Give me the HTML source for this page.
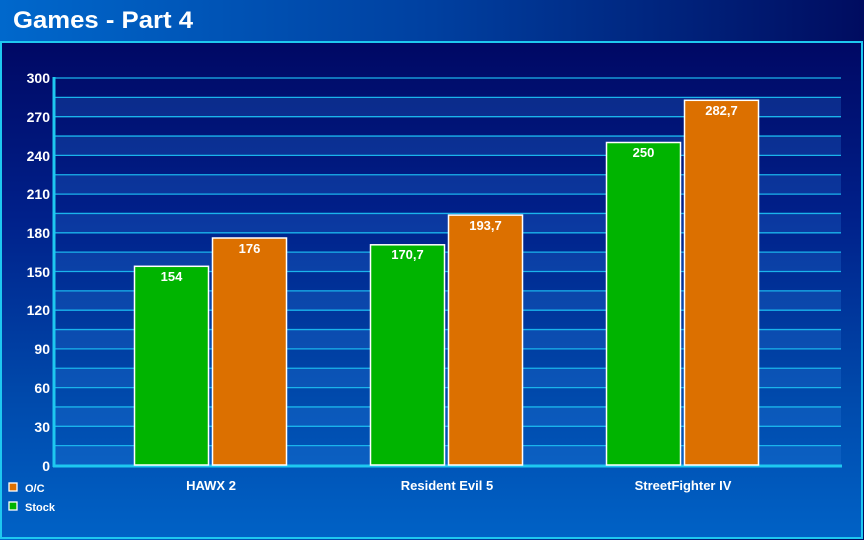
<!DOCTYPE html><html><head><style>body{margin:0}svg{display:block}text{font-family:"Liberation Sans",Arial,sans-serif;font-weight:bold;fill:#fff}</style></head><body>
<svg width="864" height="540" xmlns="http://www.w3.org/2000/svg">
<defs>
<linearGradient id="tb" x1="0" x2="1" y1="0" y2="0"><stop offset="0" stop-color="#0068cc"/><stop offset="0.5" stop-color="#0040a0"/><stop offset="1" stop-color="#000c60"/></linearGradient>
<linearGradient id="bg" x1="0" x2="0" y1="0" y2="1"><stop offset="0" stop-color="#000864"/><stop offset="0.35" stop-color="#00208a"/><stop offset="0.7" stop-color="#0048aa"/><stop offset="1" stop-color="#0062c6"/></linearGradient>
</defs>
<rect width="864" height="540" fill="url(#tb)"/>
<text x="13" y="28" font-size="24" textLength="180" lengthAdjust="spacingAndGlyphs">Games - Part 4</text>
<rect x="1" y="42" width="861" height="496" fill="url(#bg)" stroke="#1ec8f0" stroke-width="2"/>
<g fill="#2a7ee0" fill-opacity="0.25">
<rect x="55" y="97.35" width="786" height="19.35"/><rect x="55" y="136.05" width="786" height="19.35"/><rect x="55" y="174.75" width="786" height="19.35"/><rect x="55" y="213.45" width="786" height="19.35"/><rect x="55" y="252.15" width="786" height="19.35"/><rect x="55" y="290.85" width="786" height="19.35"/><rect x="55" y="329.55" width="786" height="19.35"/><rect x="55" y="368.25" width="786" height="19.35"/><rect x="55" y="406.95" width="786" height="19.35"/><rect x="55" y="445.65" width="786" height="19.35"/>
</g>
<g stroke="#1ab4ec" stroke-width="1.3">
<line x1="55" x2="841" y1="78" y2="78"/><line x1="55" x2="841" y1="97.35" y2="97.35"/><line x1="55" x2="841" y1="116.7" y2="116.7"/><line x1="55" x2="841" y1="136.05" y2="136.05"/><line x1="55" x2="841" y1="155.4" y2="155.4"/><line x1="55" x2="841" y1="174.75" y2="174.75"/><line x1="55" x2="841" y1="194.1" y2="194.1"/><line x1="55" x2="841" y1="213.45" y2="213.45"/><line x1="55" x2="841" y1="232.8" y2="232.8"/><line x1="55" x2="841" y1="252.15" y2="252.15"/><line x1="55" x2="841" y1="271.5" y2="271.5"/><line x1="55" x2="841" y1="290.85" y2="290.85"/><line x1="55" x2="841" y1="310.2" y2="310.2"/><line x1="55" x2="841" y1="329.55" y2="329.55"/><line x1="55" x2="841" y1="348.9" y2="348.9"/><line x1="55" x2="841" y1="368.25" y2="368.25"/><line x1="55" x2="841" y1="387.6" y2="387.6"/><line x1="55" x2="841" y1="406.95" y2="406.95"/><line x1="55" x2="841" y1="426.3" y2="426.3"/><line x1="55" x2="841" y1="445.65" y2="445.65"/>
</g>
<line x1="54" x2="54" y1="77" y2="467" stroke="#1ec8f0" stroke-width="3"/>
<line x1="53" x2="842" y1="466" y2="466" stroke="#1ec8f0" stroke-width="3"/>
<g font-size="14" text-anchor="end">
<text x="50" y="83">300</text><text x="50" y="122">270</text><text x="50" y="161">240</text><text x="50" y="199">210</text><text x="50" y="238">180</text><text x="50" y="277">150</text><text x="50" y="315">120</text><text x="50" y="354">90</text><text x="50" y="393">60</text><text x="50" y="432">30</text><text x="50" y="471">0</text>
</g>
<g stroke="#fff" stroke-width="1.5">
<rect x="134.5" y="266.3" width="74" height="198.7" fill="#00b400"/>
<rect x="212.5" y="238" width="74" height="227" fill="#dc7000"/>
<rect x="370.5" y="244.8" width="74" height="220.2" fill="#00b400"/>
<rect x="448.5" y="215.1" width="74" height="249.9" fill="#dc7000"/>
<rect x="606.5" y="142.5" width="74" height="322.5" fill="#00b400"/>
<rect x="684.5" y="100.3" width="74" height="364.7" fill="#dc7000"/>
</g>
<g font-size="13" text-anchor="middle">
<text x="171.5" y="281">154</text><text x="249.5" y="253">176</text>
<text x="407.5" y="259">170,7</text><text x="485.5" y="230">193,7</text>
<text x="643.5" y="157">250</text><text x="721.5" y="115">282,7</text>
<text x="211" y="490">HAWX 2</text><text x="447" y="490">Resident Evil 5</text><text x="683" y="490">StreetFighter IV</text>
</g>
<rect x="9" y="483" width="8" height="8" fill="#dc7000" stroke="#fff" stroke-width="1.3"/>
<rect x="9" y="502" width="8" height="8" fill="#00b400" stroke="#fff" stroke-width="1.3"/>
<g font-size="11"><text x="25" y="492">O/C</text><text x="25" y="511">Stock</text></g>
</svg></body></html>
